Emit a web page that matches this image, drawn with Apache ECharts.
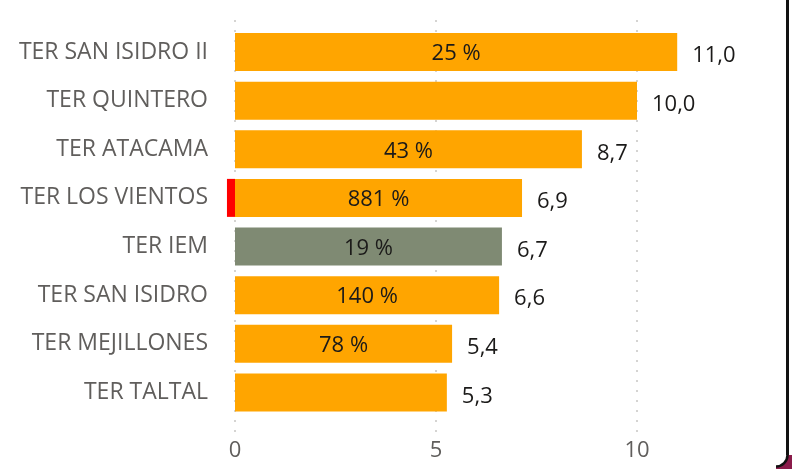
<!DOCTYPE html>
<html>
<head>
<meta charset="utf-8">
<script src="https://cdn.jsdelivr.net/npm/echarts@6/dist/echarts.min.js"></script>
<style>
    html, body { margin: 0; padding: 0; background: #fff; }
    #chart { width: 792px; height: 469px; }
</style>
</head>
<body>
<div id="chart"></div>
<script>
    // terminales, ordenadas de arriba hacia abajo
    const categories = ['TER SAN ISIDRO II', 'TER QUINTERO', 'TER ATACAMA', 'TER LOS VIENTOS',
        'TER IEM', 'TER SAN ISIDRO', 'TER MEJILLONES', 'TER TALTAL']
    const values = [11.0, 10.0, 8.63, 7.14, 6.64, 6.57, 5.4, 5.27]
    const negatives = [null, null, null, -0.2, null, null, null, null]
    const totals = ['11,0', '10,0', '8,7', '6,9', '6,7', '6,6', '5,4', '5,3']
    const percents = [25, null, 43, 881, 19, 140, 78, null]
    const xTicks = [0, 5, 10]
    const highlight = 'TER IEM'

    const font = '"Open Sans", "Noto Sans", sans-serif'

    const chart = echarts.init(document.getElementById('chart'))
    chart.setOption({
        animation: false,
        grid: [
            { left: 235, width: 522.6, top: 27.7, height: 389 },
            { left: 235, width: 522.6, top: 20, height: 412 }
        ],
        xAxis: [{
            gridIndex: 0, type: 'value', min: 0, max: 13, interval: 5,
            axisLine: { show: false }, axisTick: { show: false },
            axisLabel: { show: false }, splitLine: { show: false }
        }, {
            gridIndex: 1, type: 'value', min: 0, max: 13, interval: 5,
            axisLine: { show: false }, axisTick: { show: false },
            axisLabel: {
                margin: 8, color: '#605E5C', fontSize: 22, fontFamily: font,
                formatter: v => xTicks.includes(v) ? String(v) : ''
            },
            splitLine: {
                showMaxLine: false,
                lineStyle: { color: '#C8C6C4', type: [2, 8], width: 1.5 }
            },
            z: 0
        }],
        yAxis: [{
            gridIndex: 0, type: 'category', data: categories, inverse: true,
            axisLine: { show: false }, axisTick: { show: false },
            axisLabel: { margin: 27, color: '#605E5C', fontSize: 23, fontFamily: font }
        }, {
            gridIndex: 1, type: 'value', show: false
        }],
        series: [{
            name: 'base',
            type: 'bar',
            data: values.map((v, i) => ({
                value: v,
                itemStyle: { color: categories[i] === highlight ? '#7F8A73' : '#FFA500' }
            })),
            barWidth: 38,
            barGap: '-100%',
            label: {
                show: true, position: 'inside', offset: [0, 2],
                color: '#1B1A19', fontSize: 22, fontFamily: font,
                formatter: p => percents[p.dataIndex] == null ? '' : percents[p.dataIndex] + ' %'
            },
            z: 2
        }, {
            name: 'neg',
            type: 'bar',
            data: negatives,
            barWidth: 38,
            barGap: '-100%',
            clip: false,
            itemStyle: { color: '#FF0000' },
            z: 2
        }, {
            name: 'valores',
            type: 'bar',
            data: values,
            barWidth: 38,
            barGap: '-100%',
            itemStyle: { color: 'transparent' },
            label: {
                show: true, position: 'right', distance: 15, offset: [0, 4],
                color: '#1B1A19', fontSize: 22, fontFamily: font,
                formatter: p => totals[p.dataIndex]
            },
            z: 3
        }],
        graphic: [
            { type: 'rect', shape: { x: 776, y: 455, width: 16, height: 14 }, style: { fill: '#8A1B4A' }, z: 10 },
            { type: 'sector', shape: { cx: 776, cy: 455, r: 11.5, startAngle: 0, endAngle: Math.PI / 2 }, style: { fill: '#fff' }, z: 11 },
            { type: 'rect', shape: { x: 786, y: 0, width: 3, height: 455 }, style: { fill: '#111' }, z: 12 },
            { type: 'arc', shape: { cx: 776, cy: 455, r: 11.5, startAngle: 0, endAngle: Math.PI / 2 }, style: { stroke: '#111', lineWidth: 2.5, fill: null }, z: 12 }
        ]
    })
</script>
</body>
</html>
